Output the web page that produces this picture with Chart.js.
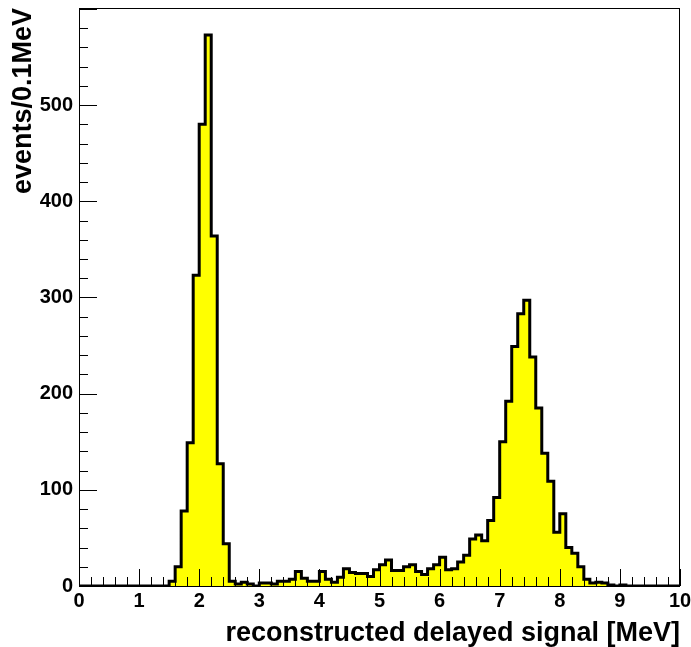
<!DOCTYPE html>
<html>
<head>
<meta charset="utf-8">
<title>Delayed signal spectrum</title>
<script src="https://cdn.jsdelivr.net/npm/chart.js@4.4.1/dist/chart.umd.min.js"></script>
<style>
  html, body { margin: 0; padding: 0; background: #ffffff; }
  #wrap { position: relative; width: 691px; height: 647px; }
</style>
</head>
<body>
<div id="wrap"><canvas id="hist"></canvas></div>
<script>
// Histogram of the reconstructed delayed signal: 100 bins of 0.1 MeV from 0 to 10 MeV.
const binWidth = 0.1;
const binCount = 100;
const eventsPerBin = [
  0, 0, 0, 0, 0, 0, 0, 0, 0, 0,            // 0.0 - 1.0
  0, 0, 0, 0, 0, 5, 20, 78, 149, 323,      // 1.0 - 2.0
  480, 573, 364, 127, 44, 5, 2, 4, 2, 0,   // 2.0 - 3.0
  3, 3, 2, 5, 5, 7, 15, 8, 5, 5,           // 3.0 - 4.0
  15, 7, 4, 9, 18, 14, 13, 13, 10, 17,     // 4.0 - 5.0
  22, 27, 16, 16, 20, 22, 15, 12, 18, 22,  // 5.0 - 6.0
  30, 17, 18, 25, 32, 49, 53, 47, 68, 92,  // 6.0 - 7.0
  150, 192, 249, 283, 297, 238, 185, 138, 109, 56, // 7.0 - 8.0
  75, 40, 34, 20, 7, 3, 4, 3, 1, 0,        // 8.0 - 9.0
  1, 0, 0, 0, 0, 0, 0, 0, 0, 0             // 9.0 - 10.0
];
const xTickLabels = [0, 1, 2, 3, 4, 5, 6, 7, 8, 9, 10];
const yTickLabels = [0, 100, 200, 300, 400, 500];
const xTitle = 'reconstructed delayed signal [MeV]';
const yTitle = 'events/0.1MeV';

// Lower bin edges plus the upper edge of the last bin.
const binEdges = Array.from({ length: binCount + 1 }, (_, i) => +(i * binWidth).toFixed(1));
const histPoints = binEdges.map((x, i) => ({ x, y: eventsPerBin[Math.min(i, binCount - 1)] }));

const FONT = '"Liberation Sans", Arial, Helvetica, sans-serif';

// Keep the plot frame at a fixed place: no extra room reserved for label overhang.
function fixBox(scale, prop, size) {
  scale[prop] = size;
  scale.paddingTop = 0;
  scale.paddingBottom = 0;
  scale.paddingLeft = 0;
  scale.paddingRight = 0;
}

// Frame and inward-pointing ticks, drawn on top of the filled histogram.
const frameTicks = {
  id: 'frameTicks',
  afterDatasetsDraw(chart) {
    const { ctx, chartArea: a, scales: { x, y } } = chart;
    ctx.save();
    ctx.strokeStyle = '#000';
    ctx.lineWidth = 1;
    ctx.beginPath();
    // x ticks: majors every 1 MeV, minors every 0.2 MeV
    for (let k = 0; k <= 50; k++) {
      const v = k * 0.2;
      const px = Math.round(x.getPixelForValue(v)) + 0.5;
      const len = (k % 5 === 0) ? 17 : 9;
      ctx.moveTo(px, a.bottom);
      ctx.lineTo(px, a.bottom - len);
    }
    // y ticks: majors every 100, minors every 20
    for (let v = 0; v <= 600; v += 20) {
      const py = Math.round(y.getPixelForValue(v)) + 0.5;
      if (py < a.top) continue;
      const len = (v % 100 === 0) ? 18 : 9;
      ctx.moveTo(a.left, py);
      ctx.lineTo(a.left + len, py);
    }
    ctx.stroke();
    ctx.strokeRect(a.left + 0.5, a.top + 0.5, a.right - a.left - 1, a.bottom - a.top);
    ctx.restore();
  }
};

new Chart(document.getElementById('hist'), {
  type: 'line',
  data: {
    datasets: [{
      data: histPoints,
      stepped: 'before',
      fill: 'origin',
      backgroundColor: '#ffff00',
      borderColor: '#000000',
      borderWidth: 3,
      borderJoinStyle: 'miter',
      borderCapStyle: 'butt',
      pointRadius: 0,
      pointHoverRadius: 0,
      tension: 0
    }]
  },
  options: {
    responsive: true,
    maintainAspectRatio: false,
    animation: false,
    events: [],
    layout: { padding: { top: 8, right: 11, left: 0, bottom: 0 } },
    plugins: { legend: { display: false }, tooltip: { enabled: false } },
    scales: {
      x: {
        type: 'linear',
        min: 0,
        max: 10,
        afterFit: s => fixBox(s, 'height', 61),
        afterBuildTicks: s => { s.ticks = xTickLabels.map(v => ({ value: v })); },
        grid: { display: false, drawTicks: false },
        border: { display: false },
        ticks: {
          padding: 3,
          maxRotation: 0,
          autoSkip: false,
          color: '#000',
          font: { family: FONT, size: 20, weight: 'bold' }
        },
        title: {
          display: true,
          text: xTitle,
          align: 'end',
          color: '#000',
          padding: { top: 0, bottom: -3 },
          font: { family: FONT, size: 27, weight: 'bold' }
        }
      },
      y: {
        type: 'linear',
        min: 0,
        max: 601,
        afterFit: s => fixBox(s, 'width', 79),
        afterBuildTicks: s => { s.ticks = yTickLabels.map(v => ({ value: v })); },
        grid: { display: false, drawTicks: false },
        border: { display: false },
        ticks: {
          padding: 6,
          autoSkip: false,
          color: '#000',
          font: { family: FONT, size: 20, weight: 'bold' }
        },
        title: {
          display: true,
          text: yTitle,
          align: 'end',
          color: '#000',
          padding: { top: 7, bottom: 0 },
          font: { family: FONT, size: 27, weight: 'bold' }
        }
      }
    }
  },
  plugins: [frameTicks]
});
</script>
</body>
</html>
